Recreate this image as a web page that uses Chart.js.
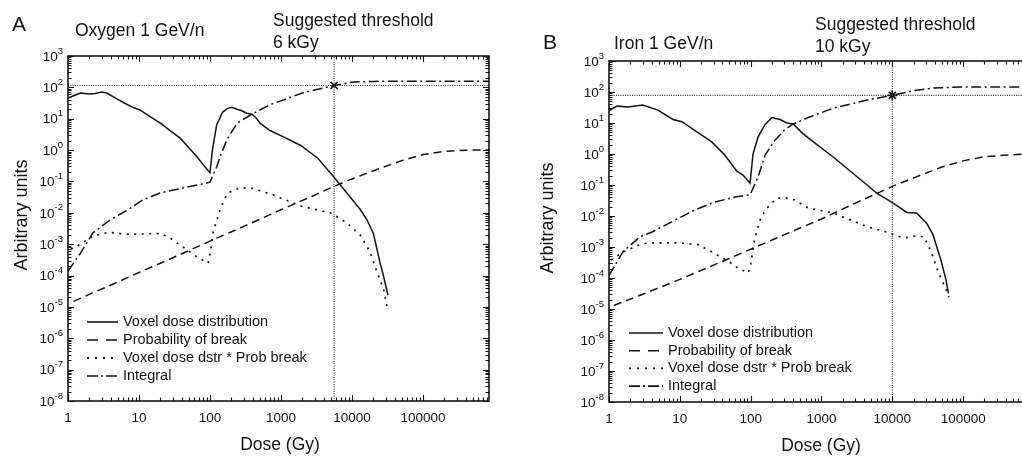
<!DOCTYPE html>
<html>
<head>
<meta charset="utf-8">
<script src="https://cdn.jsdelivr.net/npm/chart.js@4.4.1/dist/chart.umd.min.js"></script>
<style>
  html,body{margin:0;padding:0;background:#fff;}
  body{width:1022px;height:456px;overflow:hidden;position:relative;}
  #pa{position:absolute;left:0;top:0;width:511px;height:456px;}
  #pb{position:absolute;left:511px;top:0;width:511px;height:456px;overflow:hidden;}
</style>
</head>
<body>
<div id="pa"><canvas id="ca" width="511" height="456"></canvas></div>
<div id="pb"><canvas id="cb" width="560" height="456"></canvas></div>
<script>
// ---------- axis ticks ----------
const xTickValues = [1, 10, 100, 1000, 10000, 100000];
const xTickLabels = ['1', '10', '100', '1000', '10000', '100000'];
const yTickValues = [1e-8, 1e-7, 1e-6, 1e-5, 1e-4, 1e-3, 1e-2, 1e-1, 1, 10, 100, 1000];
const yTickExponents = ['-8', '-7', '-6', '-5', '-4', '-3', '-2', '-1', '0', '1', '2', '3'];
const legendLabels = ['Voxel dose distribution', 'Probability of break', 'Voxel dose dstr * Prob break', 'Integral'];

// ---------- Panel A : Oxygen 1 GeV/n ----------
const voxelA_x = [1, 1.3, 1.5, 2.0, 2.4, 3.0, 3.5, 4.9, 6.5, 8.2, 10.3, 14, 20, 28, 38, 50, 65, 82, 100, 108, 124, 150, 175, 204, 240, 280, 330, 390, 440, 505, 700, 1100, 1900, 3300, 5400, 9400, 13000, 16300, 20000, 24700, 28000, 32000];
const voxelA_y = [46, 58, 66, 62, 64, 71, 66, 43, 30, 23, 19, 12, 7.2, 4.0, 2.4, 1.2, 0.62, 0.32, 0.19, 1.0, 6.3, 16, 21, 23, 20, 18, 15, 14, 11, 7.2, 4.2, 2.6, 1.4, 0.55, 0.15, 0.032, 0.013, 0.0059, 0.0022, 2.7e-4, 9e-5, 2.4e-5];
const probA_x = [1.2, 2, 5, 10, 30, 100, 300, 1000, 3000, 5600, 10000, 20000, 50000, 100000, 200000, 500000, 850000];
const probA_y = [1.5e-5, 2.5e-5, 6.2e-5, 1.25e-4, 3.7e-4, 1.25e-3, 3.7e-3, 0.0125, 0.037, 0.07, 0.12, 0.22, 0.46, 0.72, 0.92, 1.0, 1.0];
const prodA_x = [1.1, 1.5, 2.2, 3.7, 6, 10, 20, 27, 42, 65, 94, 102, 110, 125, 138, 160, 180, 265, 400, 780, 2000, 4900, 6200, 8500, 13000, 18000, 22000, 28000, 31500];
const prodA_y = [7e-4, 1.0e-3, 1.8e-3, 2.4e-3, 2.1e-3, 2.1e-3, 2.2e-3, 1.6e-3, 8e-4, 4e-4, 2.5e-4, 6e-4, 2.3e-3, 6e-3, 0.012, 0.028, 0.043, 0.063, 0.06, 0.037, 0.016, 0.01, 0.0074, 0.0047, 0.002, 5.6e-4, 1.5e-4, 3.5e-5, 8.5e-6];
const integA_x = [1, 1.2, 1.5, 2.25, 3.9, 6.8, 11.4, 20, 47, 90, 100, 110, 125, 138, 172, 240, 390, 700, 2000, 5600, 10300, 20000, 52000, 200000, 850000];
const integA_y = [1.4e-4, 2.5e-4, 5.2e-4, 2.3e-3, 5.9e-3, 0.012, 0.026, 0.043, 0.066, 0.089, 0.095, 0.16, 0.3, 0.6, 2.1, 7.2, 14, 28, 66, 115, 148, 155, 158, 158, 158];
const thresholdA = [5600, 115];

// ---------- Panel B : Iron 1 GeV/n ----------
const voxelB_x = [1, 1.3, 1.85, 3.0, 4.9, 8, 10.7, 16, 28, 43, 64, 78, 98, 108, 127, 160, 200, 260, 325, 400, 530, 760, 1460, 4400, 6000, 10300, 16000, 22000, 30500, 37500, 49000, 57000, 62000];
const voxelB_y = [25, 35, 33, 38, 26, 13, 11, 5.9, 2.5, 0.93, 0.28, 0.21, 0.115, 1.0, 3.5, 9, 15, 13, 10, 9.3, 4.8, 2.5, 0.8, 0.1, 0.055, 0.026, 0.013, 0.0125, 0.0059, 0.0025, 3.5e-4, 9e-5, 3.2e-5];
const probB_x = [1.17, 3, 10, 30, 100, 300, 1000, 3000, 10000, 20000, 50000, 100000, 200000, 500000, 850000];
const probB_y = [1.3e-5, 3e-5, 9e-5, 2.6e-4, 8.5e-4, 2.5e-3, 8e-3, 0.026, 0.09, 0.17, 0.38, 0.6, 0.82, 0.95, 1.0];
const prodB_x = [1.07, 1.6, 2.5, 3.5, 9.4, 18, 30, 48, 66, 92, 100, 112, 125, 140, 170, 235, 325, 420, 650, 1460, 4400, 9400, 12000, 16000, 22000, 28000, 35000, 44000, 52000, 58000, 63000];
const prodB_y = [3.8e-4, 7e-4, 1.1e-3, 1.35e-3, 1.35e-3, 1.2e-3, 6.5e-4, 3.5e-4, 2.1e-4, 1.45e-4, 2.6e-4, 1.5e-3, 4e-3, 9e-3, 0.018, 0.038, 0.038, 0.033, 0.018, 0.0125, 0.0045, 0.0028, 0.0022, 0.002, 0.0023, 0.0021, 7.5e-4, 1.7e-4, 7e-5, 4e-5, 2.4e-5];
const integB_x = [1, 1.6, 2.8, 4, 7.7, 16, 31, 60, 98, 127, 160, 220, 300, 400, 650, 1460, 4400, 10000, 20000, 37500, 100000, 850000];
const integB_y = [1.2e-4, 7.4e-4, 2.2e-3, 3e-3, 6.5e-3, 0.0155, 0.028, 0.041, 0.048, 0.18, 0.93, 2.8, 5.9, 9.3, 15, 30, 55, 78, 110, 135, 145, 145];
const thresholdB = [10000, 78];

const X_MIN = 1, X_MAX = 850000, Y_MIN = 1e-8, Y_MAX = 1e3;
const INK = '#141414';
const FONT = '"Liberation Sans", Arial, sans-serif';

function pts(xs, ys) { return xs.map((v, i) => ({ x: v, y: ys[i] })); }

const DASH_SOLID = [], DASH_DASHED = [8, 5], DASH_DOTTED = [2, 5.5], DASH_DASHDOT = [10, 3.5, 2, 3.5];

function buildDatasets(vx, vy, px, py, qx, qy, ix, iy, thr, markerStyle) {
  const base = { pointRadius: 0, borderColor: INK, borderWidth: 1.5, tension: 0, fill: false };
  return [
    Object.assign({}, base, { label: 'thrV', data: [{ x: thr[0], y: Y_MIN }, { x: thr[0], y: Y_MAX }], borderDash: [1, 1.3], borderWidth: 1.1, borderColor: '#333' }),
    Object.assign({}, base, { label: 'thrH', data: [{ x: X_MIN, y: thr[1] }, { x: X_MAX, y: thr[1] }], borderDash: [1, 1.3], borderWidth: 1.1, borderColor: '#333' }),
    Object.assign({}, base, { label: legendLabels[0], data: pts(vx, vy), borderDash: DASH_SOLID }),
    Object.assign({}, base, { label: legendLabels[1], data: pts(px, py), borderDash: DASH_DASHED }),
    Object.assign({}, base, { label: legendLabels[2], data: pts(qx, qy), borderDash: DASH_DOTTED, borderWidth: 1.7 }),
    Object.assign({}, base, { label: legendLabels[3], data: pts(ix, iy), borderDash: DASH_DASHDOT }),
    { label: 'marker', type: 'scatter', data: [{ x: thr[0], y: thr[1] }], pointStyle: markerStyle, pointRadius: 5, borderColor: INK, borderWidth: 1.6, backgroundColor: INK, showLine: false }
  ];
}

function framePlugin(cfg) {
  return {
    id: 'frameTicks',
    afterDatasetsDraw(chart) {
      const ctx = chart.ctx;
      const { left, right, top, bottom } = chart.chartArea;
      const xs = chart.scales.x, ys = chart.scales.y;
      ctx.save();
      // frame
      ctx.strokeStyle = INK; ctx.lineWidth = 1.6; ctx.setLineDash([]);
      ctx.strokeRect(left, top, right - left, bottom - top);
      // ticks (inward), major + minor
      ctx.lineWidth = 1.1;
      ctx.beginPath();
      for (let d = 0; d <= 6; d++) {
        for (let k = 1; k <= 9; k++) {
          const v = k * Math.pow(10, d);
          if (v < X_MIN || v > X_MAX) continue;
          const p = Math.round(xs.getPixelForValue(v)) + 0.5;
          const len = k === 1 ? 6 : 3.5;
          ctx.moveTo(p, bottom); ctx.lineTo(p, bottom - len);
          ctx.moveTo(p, top); ctx.lineTo(p, top + len);
        }
      }
      for (let d = -8; d <= 3; d++) {
        for (let k = 1; k <= 9; k++) {
          const v = k * Math.pow(10, d);
          if (v < Y_MIN * 0.999 || v > Y_MAX * 1.001) continue;
          const p = Math.round(ys.getPixelForValue(v)) + 0.5;
          const len = k === 1 ? 6 : 3.5;
          ctx.moveTo(left, p); ctx.lineTo(left + len, p);
          ctx.moveTo(right, p); ctx.lineTo(right - len, p);
        }
      }
      ctx.stroke();
      // x tick labels
      ctx.fillStyle = INK;
      ctx.font = '13.5px ' + FONT;
      ctx.textAlign = 'center'; ctx.textBaseline = 'middle';
      xTickValues.forEach((v, i) => {
        ctx.fillText(xTickLabels[i], xs.getPixelForValue(v), bottom + 17);
      });
      // y tick labels with superscript exponents
      yTickValues.forEach((v, i) => {
        const py = ys.getPixelForValue(v);
        ctx.font = '9.5px ' + FONT;
        const ew = ctx.measureText(yTickExponents[i]).width;
        ctx.textAlign = 'left'; ctx.textBaseline = 'middle';
        const xr = left - 5;
        ctx.fillText(yTickExponents[i], xr - ew, py - 5);
        ctx.font = '13.5px ' + FONT;
        ctx.textAlign = 'right';
        ctx.fillText('10', xr - ew, py + 1);
      });
      // axis titles
      ctx.font = '17.5px ' + FONT;
      ctx.textAlign = 'center'; ctx.textBaseline = 'middle';
      ctx.fillText('Dose (Gy)', cfg.xTitle[0], cfg.xTitle[1]);
      ctx.save();
      ctx.translate(cfg.yTitle[0], cfg.yTitle[1]);
      ctx.rotate(-Math.PI / 2);
      ctx.font = '18px ' + FONT;
      ctx.fillText('Arbitrary units', 0, 0);
      ctx.restore();
      // panel texts
      ctx.textAlign = 'left'; ctx.textBaseline = 'middle';
      cfg.texts.forEach(t => {
        ctx.font = t[3] + 'px ' + FONT;
        ctx.fillText(t[0], t[1], t[2]);
      });
      // legend (inside plot)
      const lg = cfg.legend;
      const dsets = chart.data.datasets.filter(d => legendLabels.includes(d.label));
      const legendDash = [[], [11, 8], [2, 6], [11, 3, 2, 3]];
      dsets.forEach((d, i) => {
        const yy = lg.y + i * lg.dy;
        ctx.beginPath();
        ctx.setLineDash(legendDash[i]);
        ctx.lineWidth = i === 2 ? 1.8 : 1.6;
        ctx.strokeStyle = INK;
        ctx.moveTo(lg.x, yy); ctx.lineTo(lg.x + lg.len, yy);
        ctx.stroke();
        ctx.setLineDash([]);
        ctx.font = '14.5px ' + FONT;
        ctx.fillText(d.label, lg.x + lg.len + 5, yy);
      });
      ctx.restore();
    }
  };
}

function makeChart(id, datasets, padding, cfg) {
  return new Chart(document.getElementById(id), {
    type: 'line',
    data: { datasets },
    options: {
      responsive: false,
      animation: false,
      events: [],
      layout: { padding },
      plugins: { legend: { display: false }, tooltip: { enabled: false } },
      scales: {
        x: { type: 'logarithmic', min: X_MIN, max: X_MAX, display: false },
        y: { type: 'logarithmic', min: Y_MIN, max: Y_MAX, display: false }
      }
    },
    plugins: [framePlugin(cfg)]
  });
}

makeChart('ca',
  buildDatasets(voxelA_x, voxelA_y, probA_x, probA_y, prodA_x, prodA_y, integA_x, integA_y, thresholdA, 'crossRot'),
  { left: 68, right: 22, top: 56, bottom: 55 },
  {
    xTitle: [280, 445], yTitle: [22, 215],
    texts: [['A', 12, 25, 21], ['Oxygen 1 GeV/n', 75, 31, 17.5], ['Suggested threshold', 273, 21, 17.5], ['6 kGy', 273, 43, 17.5]],
    legend: { x: 87, y: 322, dy: 18, len: 31 }
  });

makeChart('cb',
  buildDatasets(voxelB_x, voxelB_y, probB_x, probB_y, prodB_x, prodB_y, integB_x, integB_y, thresholdB, 'star'),
  { left: 98, right: 42, top: 61, bottom: 54 },
  {
    xTitle: [310, 446], yTitle: [37, 218],
    texts: [['B', 32, 43, 21], ['Iron 1 GeV/n', 103, 44, 17.5], ['Suggested threshold', 304, 25, 17.5], ['10 kGy', 304, 47, 17.5]],
    legend: { x: 118, y: 333, dy: 17.7, len: 34 }
  });
</script>
</body>
</html>
